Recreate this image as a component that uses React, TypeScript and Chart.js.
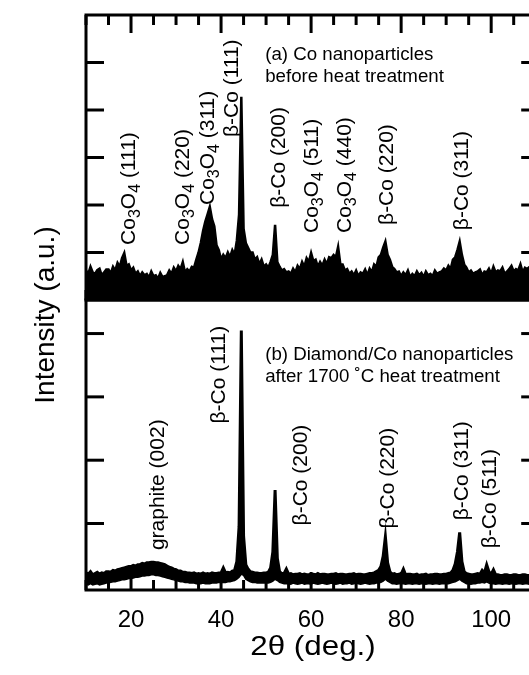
import React, { useEffect, useRef } from 'react';
import { Chart, registerables } from 'chart.js';

Chart.register(...registerables);

const FONT = '"Liberation Sans", Arial, Helvetica, sans-serif';

// 2θ sampling (deg.)
const angles = [
  10, 10.5, 11, 11.5, 12, 12.5, 13, 13.5, 14, 14.5,
  15, 15.5, 16, 16.5, 17, 17.5, 18, 18.5, 19, 19.5,
  20, 20.5, 21, 21.5, 22, 22.5, 23, 23.5, 24, 24.5,
  25, 25.5, 26, 26.5, 27, 27.5, 28, 28.5, 29, 29.5,
  30, 30.5, 31, 31.5, 32, 32.5, 33, 33.5, 34, 34.5,
  35, 35.5, 36, 36.5, 37, 37.5, 38, 38.5, 39, 39.5,
  40, 40.5, 41, 41.5, 42, 42.5, 43, 43.5, 44, 44.5,
  45, 45.5, 46, 46.5, 47, 47.5, 48, 48.5, 49, 49.5,
  50, 50.5, 51, 51.5, 52, 52.5, 53, 53.5, 54, 54.5,
  55, 55.5, 56, 56.5, 57, 57.5, 58, 58.5, 59, 59.5,
  60, 60.5, 61, 61.5, 62, 62.5, 63, 63.5, 64, 64.5,
  65, 65.5, 66, 66.5, 67, 67.5, 68, 68.5, 69, 69.5,
  70, 70.5, 71, 71.5, 72, 72.5, 73, 73.5, 74, 74.5,
  75, 75.5, 76, 76.5, 77, 77.5, 78, 78.5, 79, 79.5,
  80, 80.5, 81, 81.5, 82, 82.5, 83, 83.5, 84, 84.5,
  85, 85.5, 86, 86.5, 87, 87.5, 88, 88.5, 89, 89.5,
  90, 90.5, 91, 91.5, 92, 92.5, 93, 93.5, 94, 94.5,
  95, 95.5, 96, 96.5, 97, 97.5, 98, 98.5, 99, 99.5,
  100, 100.5, 101, 101.5, 102, 102.5, 103, 103.5, 104, 104.5,
  105, 105.5, 106, 106.5, 107, 107.5, 108, 108.5,
];

// (a) Co nanoparticles before heat treatment (a.u.), upper edge of the noisy trace
const intensityA = [
  0.62, 0.55, 0.70, 0.58, 0.55, 0.63, 0.66, 0.52, 0.58, 0.64,
  0.64, 0.56, 0.70, 0.62, 0.78, 0.70, 0.88, 0.99, 0.72, 0.75,
  0.62, 0.68, 0.55, 0.60, 0.50, 0.58, 0.52, 0.55, 0.47, 0.60,
  0.50, 0.52, 0.45, 0.57, 0.48, 0.50, 0.52, 0.62, 0.55, 0.68,
  0.60, 0.72, 0.65, 0.80, 0.58, 0.65, 0.60, 0.70, 0.68, 0.85,
  1.00, 1.20, 1.45, 1.65, 1.80, 1.96, 1.70, 1.55, 1.15, 1.05,
  0.85, 0.95, 0.88, 1.00, 0.90, 1.05, 0.95, 1.25, 1.80, 4.28,
  1.50, 1.20, 1.10, 1.00, 1.00, 0.85, 0.90, 0.75, 0.85, 0.70,
  0.75, 0.68, 0.80, 0.95, 1.58, 0.80, 0.70, 0.62, 0.65, 0.58,
  0.60, 0.55, 0.66, 0.58, 0.72, 0.65, 0.80, 0.70, 0.88, 0.80,
  0.99, 0.82, 0.85, 0.70, 0.80, 0.72, 0.85, 0.75, 0.90, 0.88,
  0.95, 0.90, 1.12, 0.75, 0.75, 0.62, 0.65, 0.55, 0.60, 0.52,
  0.62, 0.50, 0.58, 0.55, 0.64, 0.52, 0.66, 0.58, 0.75, 0.70,
  0.90, 0.95, 1.10, 1.23, 0.95, 0.85, 0.70, 0.65, 0.58, 0.60,
  0.50, 0.58, 0.52, 0.62, 0.48, 0.55, 0.50, 0.60, 0.52, 0.57,
  0.48, 0.60, 0.52, 0.55, 0.50, 0.62, 0.55, 0.58, 0.60, 0.66,
  0.62, 0.72, 0.65, 0.85, 0.90, 1.05, 1.23, 0.95, 0.75, 0.68,
  0.58, 0.62, 0.55, 0.58, 0.60, 0.64, 0.52, 0.60, 0.58, 0.66,
  0.55, 0.70, 0.58, 0.62, 0.60, 0.68, 0.55, 0.60, 0.65, 0.72,
  0.60, 0.65, 0.62, 0.75, 0.58, 0.68, 0.65, 0.70,
];

// (b) Diamond/Co nanoparticles after 1700 °C heat treatment (a.u.), upper edge of the trace
const intensityB = [
  0.22, 0.20, 0.24, 0.19, 0.21, 0.23, 0.20, 0.22, 0.21, 0.24,
  0.24, 0.23, 0.26, 0.25, 0.27, 0.28, 0.29, 0.30, 0.31, 0.32,
  0.32, 0.34, 0.33, 0.35, 0.35, 0.37, 0.36, 0.38, 0.38, 0.39,
  0.39, 0.38, 0.38, 0.37, 0.36, 0.35, 0.33, 0.31, 0.30, 0.28,
  0.27, 0.25, 0.25, 0.23, 0.23, 0.22, 0.22, 0.21, 0.22, 0.20,
  0.21, 0.20, 0.22, 0.20, 0.21, 0.20, 0.22, 0.21, 0.21, 0.22,
  0.22, 0.30, 0.22, 0.23, 0.22, 0.25, 0.26, 0.40, 0.95, 4.05,
  0.80, 0.35, 0.28, 0.24, 0.23, 0.22, 0.22, 0.21, 0.21, 0.22,
  0.22, 0.23, 0.30, 0.55, 1.53, 0.45, 0.24, 0.21, 0.21, 0.28,
  0.20, 0.21, 0.19, 0.20, 0.20, 0.21, 0.19, 0.20, 0.19, 0.19,
  0.20, 0.20, 0.19, 0.21, 0.19, 0.20, 0.20, 0.19, 0.19, 0.20,
  0.20, 0.21, 0.19, 0.20, 0.20, 0.19, 0.19, 0.20, 0.20, 0.21,
  0.19, 0.20, 0.20, 0.19, 0.19, 0.20, 0.21, 0.21, 0.22, 0.24,
  0.26, 0.32, 0.48, 0.79, 0.38, 0.24, 0.20, 0.21, 0.19, 0.20,
  0.20, 0.28, 0.19, 0.20, 0.20, 0.19, 0.19, 0.20, 0.18, 0.19,
  0.19, 0.20, 0.18, 0.19, 0.19, 0.20, 0.20, 0.19, 0.19, 0.20,
  0.20, 0.21, 0.22, 0.26, 0.36, 0.55, 0.86, 0.40, 0.24, 0.21,
  0.20, 0.19, 0.19, 0.20, 0.21, 0.20, 0.26, 0.22, 0.35, 0.24,
  0.20, 0.27, 0.19, 0.19, 0.18, 0.18, 0.19, 0.19, 0.18, 0.18,
  0.19, 0.19, 0.18, 0.18, 0.19, 0.19, 0.18, 0.18,
];

// (b) lower edge of the noisy trace (a.u.)
const intensityBLow = [
  0.04, 0.03, 0.05, 0.03, 0.04, 0.05, 0.03, 0.04, 0.05, 0.06,
  0.06, 0.07, 0.08, 0.08, 0.09, 0.10, 0.11, 0.11, 0.12, 0.13,
  0.13, 0.14, 0.15, 0.15, 0.16, 0.17, 0.17, 0.18, 0.18, 0.19,
  0.19, 0.18, 0.18, 0.17, 0.16, 0.15, 0.14, 0.13, 0.12, 0.11,
  0.10, 0.09, 0.08, 0.08, 0.07, 0.07, 0.06, 0.06, 0.06, 0.05,
  0.05, 0.05, 0.06, 0.05, 0.05, 0.05, 0.06, 0.06, 0.06, 0.07,
  0.07, 0.07, 0.07, 0.08, 0.08, 0.09, 0.10, 0.12, 0.15, 0.20,
  0.18, 0.12, 0.10, 0.08, 0.07, 0.07, 0.06, 0.06, 0.06, 0.06,
  0.06, 0.06, 0.07, 0.09, 0.12, 0.10, 0.07, 0.06, 0.05, 0.05,
  0.05, 0.04, 0.06, 0.05, 0.04, 0.05, 0.06, 0.04, 0.05, 0.05,
  0.04, 0.06, 0.05, 0.04, 0.05, 0.06, 0.05, 0.04, 0.05, 0.06,
  0.05, 0.04, 0.05, 0.06, 0.04, 0.05, 0.05, 0.06, 0.04, 0.05,
  0.06, 0.05, 0.04, 0.05, 0.06, 0.05, 0.04, 0.05, 0.05, 0.06,
  0.06, 0.07, 0.09, 0.12, 0.09, 0.07, 0.05, 0.05, 0.04, 0.05,
  0.05, 0.05, 0.04, 0.05, 0.05, 0.04, 0.05, 0.05, 0.04, 0.05,
  0.05, 0.04, 0.05, 0.05, 0.04, 0.05, 0.05, 0.04, 0.05, 0.05,
  0.05, 0.05, 0.06, 0.07, 0.08, 0.10, 0.12, 0.09, 0.07, 0.05,
  0.05, 0.04, 0.05, 0.05, 0.06, 0.06, 0.07, 0.06, 0.08, 0.06,
  0.05, 0.05, 0.04, 0.05, 0.05, 0.04, 0.05, 0.05, 0.04, 0.05,
  0.05, 0.04, 0.05, 0.05, 0.04, 0.05, 0.05, 0.04,
];

const xTickLabels = [20, 40, 60, 80, 100];
const xMinorTicks = [10, 15, 25, 30, 35, 45, 50, 55, 65, 70, 75, 85, 90, 95, 105];
const yTicksA = [1, 2, 3, 4, 5];
const yTicksB = [1, 2, 3, 4];

// peak labels, "_n" = subscript
const peakTextA = ['Co_3O_4 (111)', 'Co_3O_4 (220)', 'Co_3O_4 (311)', 'β-Co (111)', 'β-Co (200)', 'Co_3O_4 (511)', 'Co_3O_4 (440)', 'β-Co (220)', 'β-Co (311)'];
const peakAngleA = [19.3, 31.2, 36.8, 42.2, 52.5, 59.8, 67.1, 76.5, 93.2];
const peakStartA = [1.16, 1.16, 2.0, 3.43, 1.94, 1.41, 1.41, 1.58, 1.47];

const peakTextB = ['graphite (002)', 'β-Co (111)', 'β-Co (200)', 'β-Co (220)', 'β-Co (311)', 'β-Co (511)'];
const peakAngleB = [25.6, 39.1, 57.5, 76.7, 93.2, 99.4];
const peakStartB = [0.58, 2.58, 0.97, 0.92, 1.05, 0.61];

const insetA = ['(a) Co nanoparticles', 'before heat treatment'];
const insetAValues = [5.05, 4.59];
const insetB = ['(b) Diamond/Co nanoparticles', 'after 1700 ˚C heat treatment'];
const insetBValues = [3.58, 3.24];
const insetAngle = 49.8;

const xTitle = '2θ (deg.)';
const yTitle = 'Intensity (a.u.)';

function drawRich(ctx: CanvasRenderingContext2D, text: string, size: number, subSize: number, subShift: number) {
  const re = /_(.)/g;
  const pieces: { t: string; sub: boolean }[] = [];
  let last = 0;
  let m: RegExpExecArray | null;
  while ((m = re.exec(text))) {
    pieces.push({ t: text.slice(last, m.index), sub: false });
    pieces.push({ t: m[1], sub: true });
    last = re.lastIndex;
  }
  pieces.push({ t: text.slice(last), sub: false });
  let x = 0;
  for (const p of pieces) {
    if (!p.t) continue;
    ctx.font = `${p.sub ? subSize : size}px ${FONT}`;
    ctx.fillText(p.t, x, p.sub ? subShift : 0);
    x += ctx.measureText(p.t).width;
  }
}

const overlay = {
  id: 'overlay',
  afterDatasetsDraw(chart: any) {
    const ctx: CanvasRenderingContext2D = chart.ctx;
    const xs = chart.scales.x;
    const ya = chart.scales.yA;
    const yb = chart.scales.yB;
    const L = chart.chartArea.left;
    const T = ya.top;
    const M = ya.bottom;
    const B = yb.bottom;
    const R = xs.getPixelForValue(110);
    ctx.save();
    ctx.strokeStyle = '#000';
    ctx.fillStyle = '#000';
    ctx.lineWidth = 3;
    ctx.lineCap = 'butt';
    const seg = (x1: number, y1: number, x2: number, y2: number) => {
      ctx.beginPath();
      ctx.moveTo(x1, y1);
      ctx.lineTo(x2, y2);
      ctx.stroke();
    };
    // frames
    ctx.strokeRect(L, T, R - L, M - T);
    ctx.strokeRect(L, M, R - L, B - M);
    // x ticks
    const major = 18;
    const minor = 10;
    for (const v of xTickLabels) {
      const p = xs.getPixelForValue(v);
      seg(p, T, p, T + major);
      seg(p, B, p, B - major);
      seg(p, M, p, M - major);
    }
    for (const v of xMinorTicks) {
      const p = xs.getPixelForValue(v);
      seg(p, T, p, T + minor);
      seg(p, B, p, B - minor);
      seg(p, M, p, M - minor);
    }
    // y ticks
    for (const v of yTicksA) {
      const p = ya.getPixelForValue(v);
      seg(L, p, L + major, p);
      seg(R, p, R - 15, p);
    }
    for (const v of yTicksB) {
      const p = yb.getPixelForValue(v);
      seg(L, p, L + major, p);
      seg(R, p, R - 15, p);
    }
    // peak labels (rotated)
    const drawPeak = (text: string, angle: number, start: number, scale: any) => {
      ctx.save();
      ctx.translate(xs.getPixelForValue(angle) + 7.5, scale.getPixelForValue(start));
      ctx.rotate(-Math.PI / 2);
      ctx.textAlign = 'left';
      ctx.textBaseline = 'alphabetic';
      drawRich(ctx, text, 21, 16, 5);
      ctx.restore();
    };
    peakTextA.forEach((t, i) => drawPeak(t, peakAngleA[i], peakStartA[i], ya));
    peakTextB.forEach((t, i) => drawPeak(t, peakAngleB[i], peakStartB[i], yb));
    // insets
    ctx.font = `18.7px ${FONT}`;
    ctx.textAlign = 'left';
    ctx.textBaseline = 'alphabetic';
    const ix = xs.getPixelForValue(insetAngle);
    insetA.forEach((t, i) => ctx.fillText(t, ix, ya.getPixelForValue(insetAValues[i])));
    insetB.forEach((t, i) => ctx.fillText(t, ix, yb.getPixelForValue(insetBValues[i])));
    // axis titles
    ctx.textAlign = 'center';
    ctx.font = `27px ${FONT}`;
    ctx.save();
    ctx.translate(313, 655);
    ctx.scale(1.16, 1);
    ctx.fillText(xTitle, 0, 0);
    ctx.restore();
    ctx.font = `28px ${FONT}`;
    ctx.save();
    ctx.translate(54, 315);
    ctx.rotate(-Math.PI / 2);
    ctx.fillText(yTitle, 0, 0);
    ctx.restore();
    ctx.restore();
  },
};

export default function App() {
  const ref = useRef<HTMLCanvasElement | null>(null);
  useEffect(() => {
    const canvas = ref.current;
    if (!canvas) return;
    const line = (vals: number[], axis: string, width: number, fill: any) => ({
      data: angles.map((a, i) => ({ x: a, y: vals[i] })),
      yAxisID: axis,
      borderColor: '#000',
      backgroundColor: '#000',
      borderWidth: width,
      pointRadius: 0,
      tension: 0,
      fill,
    });
    const chart = new Chart(canvas, {
      type: 'line',
      data: {
        datasets: [
          line(intensityBLow, 'yB', 1.5, false) as any,
          line(intensityB, 'yB', 3, '-1') as any,
          line(intensityA, 'yA', 2.5, 'origin') as any,
        ],
      },
      options: {
        responsive: false,
        animation: false,
        maintainAspectRatio: false,
        layout: { padding: { top: 15, right: 0, left: 0, bottom: 0 } },
        plugins: { legend: { display: false }, tooltip: { enabled: false } },
        scales: {
          x: {
            type: 'linear',
            position: 'bottom',
            min: 10,
            max: 108.4,
            grid: { display: false, drawTicks: false },
            border: { display: false },
            afterBuildTicks: (s: any) => {
              s.ticks = xTickLabels.map((v) => ({ value: v }));
            },
            ticks: {
              padding: 16,
              color: '#000',
              font: { family: FONT, size: 24 },
              maxRotation: 0,
              autoSkip: false,
              callback: (v: any) => String(v),
            },
            afterFit: (s: any) => {
              s.height = 85;
            },
          },
          yB: {
            type: 'linear',
            position: 'left',
            stack: 'panels',
            stackWeight: 290,
            min: -0.05,
            max: 4.53,
            grid: { display: false, drawTicks: false },
            border: { display: false },
            ticks: { display: false },
            afterFit: (s: any) => {
              s.width = 86;
            },
          },
          yA: {
            type: 'linear',
            position: 'left',
            stack: 'panels',
            stackWeight: 285,
            min: 0,
            max: 6,
            grid: { display: false, drawTicks: false },
            border: { display: false },
            ticks: { display: false },
            afterFit: (s: any) => {
              s.width = 86;
            },
          },
        } as any,
      },
      plugins: [overlay],
    });
    return () => chart.destroy();
  }, []);
  return (
    <>
      <style>{'html,body{margin:0;padding:0;background:#fff;overflow:hidden}'}</style>
      <canvas ref={ref} width={529} height={675} style={{ display: 'block', width: 529, height: 675 }} />
    </>
  );
}
